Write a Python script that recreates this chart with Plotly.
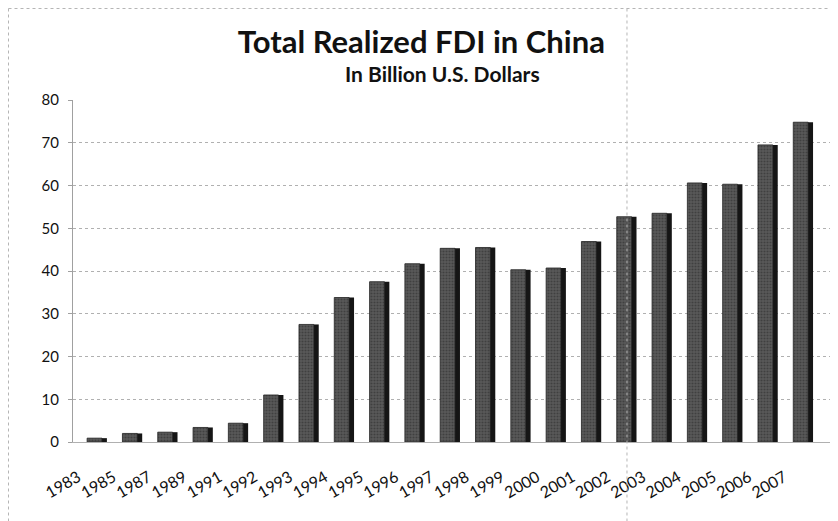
import plotly.graph_objects as go

years = ["1983", "1985", "1987", "1989", "1991", "1992", "1993", "1994", "1995", "1996",
         "1997", "1998", "1999", "2000", "2001", "2002", "2003", "2004", "2005", "2006", "2007"]
fdi = [0.9, 2.0, 2.3, 3.4, 4.4, 11.0, 27.5, 33.8, 37.5, 41.7,
       45.3, 45.5, 40.3, 40.7, 46.9, 52.7, 53.5, 60.6, 60.3, 69.5, 74.8]
y_ticks = [0, 10, 20, 30, 40, 50, 60, 70, 80]

idx = list(range(len(years)))

fig = go.Figure()
# dark right side of each column (pseudo 3D)
fig.add_trace(go.Bar(x=idx, y=fdi, width=0.15, offset=0.13,
                     marker=dict(color="#151515", line=dict(width=0)),
                     hoverinfo="skip", showlegend=False))
# front face
fig.add_trace(go.Bar(x=idx, y=fdi, width=0.42, offset=-0.28,
                     marker=dict(color="#4a4a4a", line=dict(color="#222222", width=0.8),
                                 pattern=dict(shape=".", fgcolor="#262626", bgcolor="#5a5a5a",
                                              size=3, solidity=0.4)),
                     name="FDI", showlegend=False))

fig.update_layout(
    width=830, height=513,
    paper_bgcolor="white", plot_bgcolor="white",
    margin=dict(l=65, r=8, t=92, b=79),
    barmode="overlay",
    font=dict(family="Lato, Open Sans, sans-serif", color="#111111"),
    title=dict(text="<b>Total Realized FDI in China</b>", x=0.498, xanchor="center",
               y=0.934, yanchor="middle", font=dict(size=31, family="Lato", color="#111111")),
    annotations=[dict(text="<b>In Billion U.S. Dollars</b>", xref="paper", yref="paper",
                      x=0.4875, y=1.0, yanchor="middle", yshift=27, showarrow=False,
                      font=dict(size=21, family="Lato", color="#111111"))],
    xaxis=dict(range=[-0.68, 20.76], tickmode="array", tickvals=idx, ticktext=years,
               tickangle=-30, tickfont=dict(size=16), ticklabelshift=-19,
               ticklabelstandoff=19, automargin=False,
               showgrid=False, showline=True, linecolor="#b0b0b0", linewidth=1,
               zeroline=False, ticks=""),
    yaxis=dict(range=[0, 80], tickvals=y_ticks, tickfont=dict(size=15),
               showgrid=True, gridcolor="#b0b0b0", griddash="dot", gridwidth=1,
               showline=True, linecolor="#a0a0a0", linewidth=1, automargin=False,
               ticks="outside", ticklen=4, tickcolor="#a0a0a0", zeroline=False,
               ticklabelstandoff=6),
    shapes=[
        dict(type="line", xref="paper", yref="paper", x0=-0.0852, x1=-0.0852, y0=-0.25, y1=1.2675,
             line=dict(color="#b5b5b5", width=1, dash="dot")),
        dict(type="line", xref="paper", yref="paper", x0=-0.0852, x1=1.02, y0=1.2675, y1=1.2675,
             line=dict(color="#b5b5b5", width=1, dash="dot")),
        dict(type="line", xref="paper", yref="paper", x0=0.7318, x1=0.7318, y0=-0.25, y1=1.2675,
             line=dict(color="#b5b5b5", width=1, dash="dot")),
    ],
)

fig.write_html("out.html")
